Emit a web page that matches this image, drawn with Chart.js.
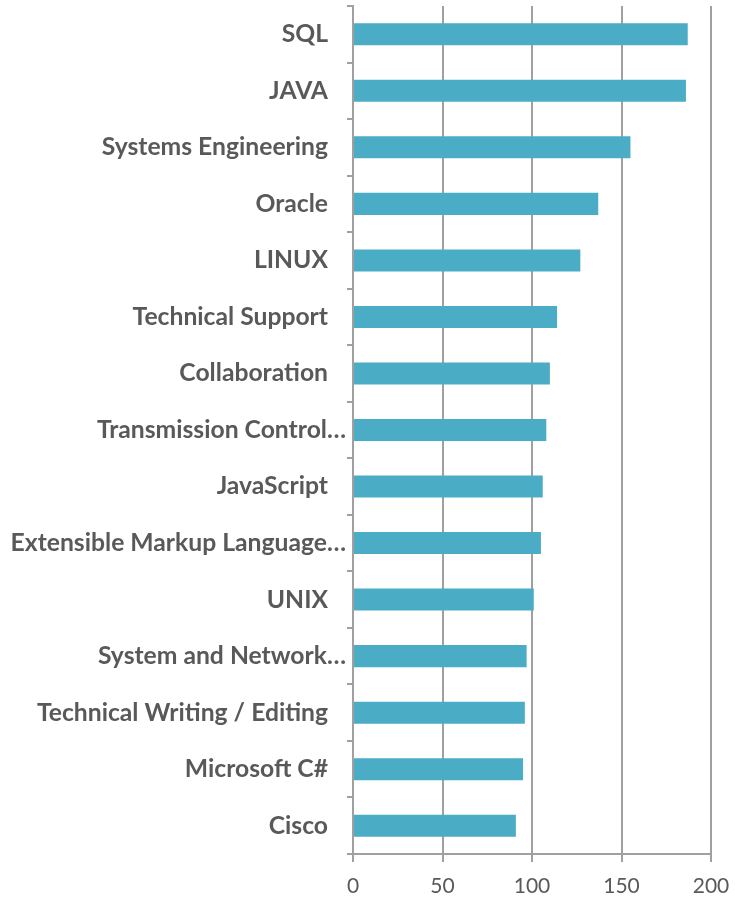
<!DOCTYPE html>
<html>
<head>
<meta charset="utf-8">
<script src="https://cdn.jsdelivr.net/npm/chart.js@4/dist/chart.umd.min.js"></script>
<style>
  html, body { margin: 0; padding: 0; background: #fff; }
  #wrap { width: 735px; height: 903px; position: relative; }
</style>
</head>
<body>
<div id="wrap"><canvas id="skills"></canvas></div>
<script>
const skills = [
  'SQL', 'JAVA', 'Systems Engineering', 'Oracle', 'LINUX', 'Technical Support',
  'Collaboration', 'Transmission Control…', 'JavaScript', 'Extensible Markup Language…',
  'UNIX', 'System and Network…', 'Technical Writing / Editing', 'Microsoft C#', 'Cisco'
];
const counts = [187, 186, 155, 137, 127, 114, 110, 108, 106, 105, 101, 97, 96, 95, 91];
const xTicks = [0, 50, 100, 150, 200];

const gray = '#a0a0a0';
const textColor = '#595959';

new Chart(document.querySelector('#skills').getContext('2d'), {
  type: 'bar',
  data: {
    labels: skills,
    datasets: [
      {
        data: counts,
        backgroundColor: '#4bacc6',
        borderWidth: 0,
        categoryPercentage: 1,
        barPercentage: 0.39
      }
    ]
  },
  options: {
    indexAxis: 'y',
    responsive: true,
    maintainAspectRatio: false,
    animation: false,
    layout: { padding: { top: 6, left: 4, right: 24, bottom: 0 } },
    plugins: {
      legend: { display: false },
      tooltip: { enabled: false }
    },
    scales: {
      x: {
        min: xTicks[0],
        max: xTicks[xTicks.length - 1],
        afterBuildTicks: (axis) => {
          axis.ticks = xTicks.map((v) => ({ value: v }));
        },
        afterFit: (axis) => {
          axis.height = 49;
          axis.paddingLeft = 0;
          axis.paddingRight = 0;
        },
        grid: { color: gray, lineWidth: 2, tickLength: 8 },
        border: { color: gray, width: 2 },
        ticks: {
          color: textColor,
          padding: 12,
          font: { family: 'Lato', size: 21 }
        }
      },
      y: {
        afterFit: (axis) => {
          axis.width = 349;
          axis.paddingTop = 0;
          axis.paddingBottom = 0;
        },
        grid: { drawOnChartArea: false, color: gray, lineWidth: 2, tickLength: 6 },
        border: { color: gray, width: 2 },
        ticks: {
          color: textColor,
          padding: 1,
          autoSkip: false,
          font: { family: 'Lato', size: 24.7, weight: 'bold' },
          callback: function (val) {
            const label = this.getLabelForValue(val);
            // labels cut short by the original keep the trailing gap away
            return label.endsWith('…') ? label : label + '   ';
          }
        }
      }
    }
  }
});
</script>
</body>
</html>
